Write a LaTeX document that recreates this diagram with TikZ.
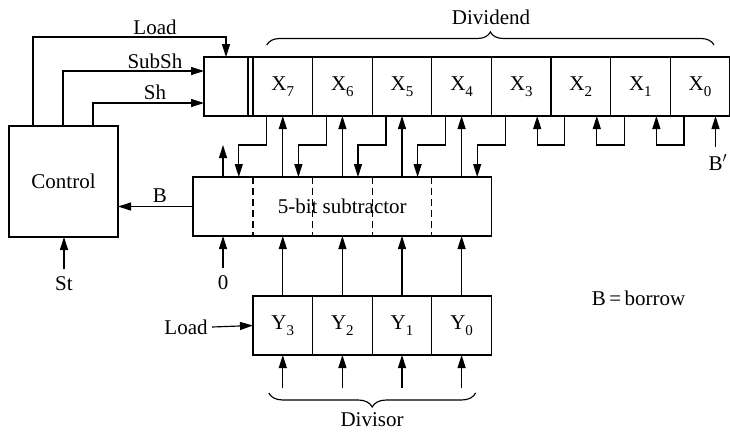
\documentclass[tikz,border=0pt]{standalone}
\usepackage{fontspec}
\setmainfont{Liberation Serif}
\usetikzlibrary{arrows.meta,decorations.pathreplacing,calc}
\newcommand\subs[1]{\raisebox{-6pt}{\fontsize{15}{16}\selectfont #1}}
\begin{document}
\begin{tikzpicture}[x=1pt,y=-1pt,line width=1.15pt,
  font=\fontsize{21}{25}\selectfont,
  arr/.style={-{Triangle[length=13pt,width=8pt]}},
  cell/.style={draw,minimum width=59.6pt,minimum height=59pt,inner sep=0pt,outer sep=0pt},
  blk/.style={draw,inner sep=0pt,outer sep=0pt},
  dsh/.style={dash pattern=on 7pt off 4pt},
  brc/.style={decorate,decoration={brace,amplitude=13pt}},
  lbl/.style={inner sep=1pt}]
\useasboundingbox (0,0) rectangle (730,432);
% top register
\node[blk,minimum width=49pt,minimum height=59pt] (lb) at (228.5,86.5) {};
\draw ([xshift=-5pt]lb.north east) -- ([xshift=-5pt]lb.south east);
\node[cell] (x7) at (282.8,86.5) {X\subs{7}};
\node[cell] (x6) at (342.4,86.5) {X\subs{6}};
\node[cell] (x5) at (402.0,86.5) {X\subs{5}};
\node[cell] (x4) at (461.6,86.5) {X\subs{4}};
\node[cell] (x3) at (521.2,86.5) {X\subs{3}};
\node[cell] (x2) at (580.8,86.5) {X\subs{2}};
\node[cell] (x1) at (640.4,86.5) {X\subs{1}};
\node[cell] (x0) at (700.0,86.5) {X\subs{0}};
% control
\node[blk,minimum width=109pt,minimum height=111pt] (ctrl) at (63.5,181.5) {Control};
% subtractor
\node[blk,minimum width=298.4pt,minimum height=59pt] (sub) at (342.2,206.5) {5-bit subtractor};
\foreach \c in {x7,x6,x5,x4}
  \draw[dsh] (\c.west |- sub.north) -- (\c.west |- sub.south);
% Y register
\node[cell] (y3) at (282.8,325.5) {Y\subs{3}};
\node[cell] (y2) at (342.4,325.5) {Y\subs{2}};
\node[cell] (y1) at (402.0,325.5) {Y\subs{1}};
\node[cell] (y0) at (461.6,325.5) {Y\subs{0}};
% control signals
\draw[arr] ([xshift=24pt]ctrl.north west) |- ([xshift=22pt,yshift=20pt]lb.north west) -- ([xshift=22pt]lb.north west);
\draw[arr] ([xshift=54pt]ctrl.north west) |- ([yshift=15.5pt]lb.west);
\draw[arr] ([xshift=84pt]ctrl.north west) |- ([yshift=-16.5pt]lb.west);
\node[lbl] (tload) at (155,27) {Load};
\node[lbl] (tsubsh) at (155,61) {SubSh};
\node[lbl] (tsh) at (155,92) {Sh};
% dividend brace
\draw[brc] ($(x7.north)+(-16,-12)$) -- ($(x0.north)+(14,-12)$);
\node[lbl] (tdiv) at (491,17) {Dividend};
% subtractor outputs to register and register to subtractor
\draw[arr] ($(sub.north west)+(30,0)$) -- ++(0,-32);
\foreach \c in {x7,x6,x5,x4}
  \draw[arr] (sub.north -| \c) -- (\c.south);
\foreach \c in {x7,x6,x5,x4,x3}
  \draw[arr] ($(\c.south)+(-16,0)$) -- ++(0,29) -| ($(sub.north -| \c)+(-44,0)$);
% right part shifts
\draw[arr] ($(x2.south)+(-16,0)$) -- ++(0,29) -| ($(x3.south)+(16,0)$);
\draw[arr] ($(x1.south)+(-16,0)$) -- ++(0,29) -| ($(x2.south)+(16,0)$);
\draw[arr] ($(x0.south)+(-16,0)$) -- ++(0,29) -| ($(x1.south)+(16,0)$);
\node[lbl,anchor=north] (tbp) at (715.5,153) {B\rlap{$'$}};
\draw[arr] ($(x0.south)+(15.5,31)$) -- ($(x0.south)+(15.5,0)$);
% B to control
\draw[arr] (sub.west) -- (sub.west -| ctrl.east);
\node[lbl] (tb) at (160,196) {B};
% St
\node[lbl] (tst) at (64,284) {St};
\draw[arr] ([yshift=6pt]tst.north) -- (tst.north |- ctrl.south);
% 0
\node[lbl] (tzero) at (223,283) {0};
\draw[arr] ([yshift=6pt]tzero.north) -- (tzero.north |- sub.south);
% Y to subtractor
\foreach \c in {y3,y2,y1,y0}{
  \draw[arr] (\c.north) -- (\c.north |- sub.south);
  \draw[arr] ($(\c.south)+(0,33)$) -- (\c.south);
}
% Load Y
\node[lbl] (tloady) at (186,327) {Load};
\draw[arr] ([xshift=3pt]tloady.east) -- (y3.west);
% divisor brace
\draw[brc,decoration={mirror,amplitude=14pt}] ($(y3.south)+(-14,38)$) -- ($(y0.south)+(14,38)$);
\node[inner sep=0pt] (tdivisor) at (372,420) {Divisor};
\node[lbl] (tborrow) at (638.5,298) {B\,=\,borrow};
\end{tikzpicture}
\end{document}
